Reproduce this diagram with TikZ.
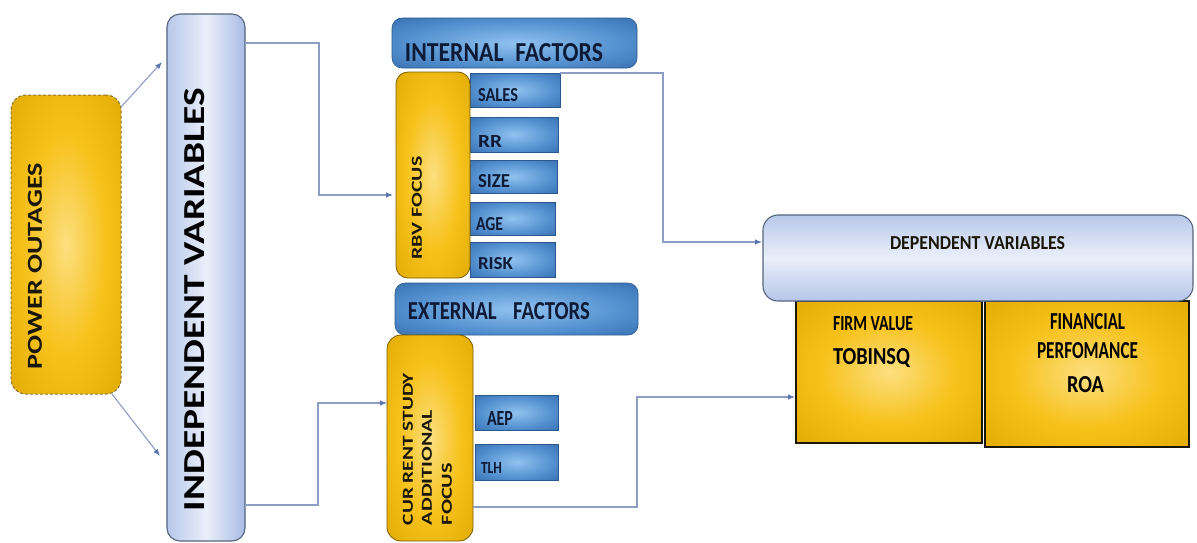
\documentclass[tikz,border=0pt]{standalone}
\usepackage{fontspec}
\setmainfont{Carlito}
\usetikzlibrary{arrows.meta}
\definecolor{gA}{HTML}{FCDF80}
\definecolor{gB}{HTML}{F7C21C}
\definecolor{gC}{HTML}{DDA700}
\definecolor{gD}{HTML}{B38600}
\definecolor{bA}{HTML}{8FC2EF}
\definecolor{bB}{HTML}{5390CF}
\definecolor{bC}{HTML}{2E64A5}
\definecolor{bD}{HTML}{214C86}
\pgfdeclareradialshading{goldshade}{\pgfpoint{0bp}{0bp}}{color(0bp)=(gA); color(18bp)=(gB); color(40bp)=(gC); color(50bp)=(gD)}
\pgfdeclareradialshading{blueshade}{\pgfpoint{0bp}{0bp}}{color(0bp)=(bA); color(22bp)=(bB); color(42bp)=(bC); color(50bp)=(bD)}
\definecolor{goldline}{HTML}{7A5C00}
\definecolor{dashc}{HTML}{8A7430}
\definecolor{blueline}{HTML}{2A5890}
\definecolor{lbleft}{HTML}{B8C8EA}
\definecolor{lbmid}{HTML}{EAEFFA}
\definecolor{lbright}{HTML}{A9BCE4}
\definecolor{lbline}{HTML}{56657F}
\definecolor{navy}{HTML}{0E1A36}
\definecolor{ink}{HTML}{1A1608}
\definecolor{linec}{HTML}{8E9DC6}
\definecolor{tipc}{HTML}{5A76AE}
\newcommand{\fitt}[3]{\resizebox{#1pt}{#2pt}{\bfseries #3}}
\begin{document}
\begin{tikzpicture}[x=1pt,y=-1pt,
  box/.style={inner sep=0pt, outer sep=0pt, anchor=north west},
  gold/.style={box, shading=goldshade, draw=goldline, line width=0.8pt},
  bluebox/.style={box, shading=blueshade, draw=blueline, line width=0.6pt},
  lightbox/.style={box, left color=lbleft, right color=lbright, middle color=lbmid, draw=lbline, line width=1.1pt},
  txt/.style={inner sep=0pt, outer sep=0pt},
  conn/.style={draw=linec, line width=1.1pt, -{Latex[length=7pt,width=5.5pt,color=tipc]}}
]
\useasboundingbox (0,0) rectangle (1197,542);
\fill[white] (0,0) rectangle (1197,542);

% left column
\node[gold, draw=dashc, line width=1pt, dash pattern=on 3pt off 2pt, rounded corners=15pt,
  minimum width=110pt, minimum height=299pt] (power) at (11,95) {};
\node[lightbox, rounded corners=13pt, minimum width=78pt, minimum height=527pt] (indep) at (167,14) {};

% internal factors group
\node[bluebox, rounded corners=10pt, minimum width=245pt, minimum height=50pt] (internal) at (392,18) {};
\node[bluebox, minimum width=90pt, minimum height=34pt] (sales) at (470,73) {};
\node[bluebox, minimum width=88pt, minimum height=35pt] (rr) at (470,117) {};
\node[bluebox, minimum width=87pt, minimum height=33pt] (size) at (470,160) {};
\node[bluebox, minimum width=85pt, minimum height=33pt] (age) at (470,202) {};
\node[bluebox, minimum width=85pt, minimum height=35pt] (risk) at (470,242) {};
\node[gold, rounded corners=12pt, minimum width=74pt, minimum height=206pt] (rbv) at (396,72) {};

% external factors group
\node[bluebox, rounded corners=10pt, minimum width=243pt, minimum height=52pt] (external) at (395,283) {};
\node[bluebox, minimum width=83pt, minimum height=35pt] (aep) at (475,395) {};
\node[bluebox, minimum width=83pt, minimum height=36pt] (tlh) at (475,444) {};
\node[gold, rounded corners=14pt, minimum width=86pt, minimum height=206pt] (cur) at (387,335) {};

% dependent group
\node[gold, draw=ink, line width=1.3pt, minimum width=186pt, minimum height=142pt] (firm) at (796,301) {};
\node[gold, draw=ink, line width=1.3pt, minimum width=204pt, minimum height=146pt] (fin) at (985,301) {};
\node[box, rounded corners=15pt, top color=lbleft, bottom color=lbleft!85!lbright, middle color=lbmid,
  draw=lbline, line width=1.1pt, minimum width=430pt, minimum height=86pt] (dep) at (763,215) {};

% texts
\node[txt, rotate=90, text=ink] (powerT) at (35,266) {\fitt{206}{14}{POWER OUTAGES}};
\node[txt, rotate=90, text=black] (indepT) at (194.5,299.5) {\fitt{423}{20}{INDEPENDENT VARIABLES}};
\node[txt, text=navy] (internalT) at (504,52.5) {\fitt{198}{18}{INTERNAL\hspace{0.5em}FACTORS}};
\node[txt, rotate=90, text=ink] (rbvT) at (417,208) {\fitt{103}{10}{RBV FOCUS}};
\node[txt, anchor=west, text=navy] (salesT) at (478,95) {\fitt{40}{13}{SALES}};
\node[txt, anchor=west, text=navy] (rrT) at (478,141) {\fitt{24}{12}{RR}};
\node[txt, anchor=west, text=navy] (sizeT) at (478,181.5) {\fitt{32}{13}{SIZE}};
\node[txt, anchor=west, text=navy] (ageT) at (476,224) {\fitt{27}{13}{AGE}};
\node[txt, anchor=west, text=navy] (riskT) at (478,264) {\fitt{35}{12}{RISK}};
\node[txt, text=navy] (externalT) at (499,311.5) {\fitt{182}{17}{EXTERNAL\hspace{0.8em}FACTORS}};
\node[txt, rotate=90, text=ink] (curT1) at (408,449) {\fitt{152}{10}{CUR RENT STUDY}};
\node[txt, rotate=90, text=ink] (curT2) at (427,467.5) {\fitt{115}{10}{ADDITIONAL}};
\node[txt, rotate=90, text=ink] (curT3) at (447,494) {\fitt{62}{10}{FOCUS}};
\node[txt, anchor=west, text=navy] (aepT) at (487,418) {\fitt{26}{14}{AEP}};
\node[txt, anchor=west, text=navy] (tlhT) at (481,468) {\fitt{21}{11}{TLH}};
\node[txt, text=ink] (depT) at (977.5,243.5) {\fitt{175}{13}{DEPENDENT VARIABLES}};
\node[txt, anchor=west, text=black] (firmT1) at (833,324) {\fitt{80}{14}{FIRM VALUE}};
\node[txt, anchor=base west, text=black] (firmT2) at (833,364) {\fitt{77}{16}{TOBINSQ}};
\node[txt, text=black] (finT1) at (1087.5,321.5) {\fitt{75}{16}{FINANCIAL}};
\node[txt, text=black] (finT2) at (1087.5,351) {\fitt{101}{16}{PERFOMANCE}};
\node[txt, text=black] (finT3) at (1085.5,385) {\fitt{37}{16}{ROA}};

% connectors
\draw[conn] ([yshift=-12pt]power.north east) -- ([xshift=-5pt,yshift=-48pt]indep.north west);
\draw[conn] ([xshift=-9pt]power.south east) -- ([xshift=-7pt,yshift=85pt]indep.south west);
\draw[conn] ([yshift=-29pt]indep.north east) -- ++(74pt,0) |- ([xshift=-3pt,yshift=-20pt]rbv.west);
\draw[conn] ([yshift=36pt]indep.south east) -- ++(73pt,0) |- ([yshift=35pt]cur.west);
\draw[conn] (sales.north east) -- ++(103pt,0) |- ([xshift=-1pt,yshift=16pt]dep.west);
\draw[conn] ([yshift=-69pt]cur.east) -- ++(164pt,0) |- ([xshift=-1pt,yshift=-25pt]firm.west);
\end{tikzpicture}
\end{document}
